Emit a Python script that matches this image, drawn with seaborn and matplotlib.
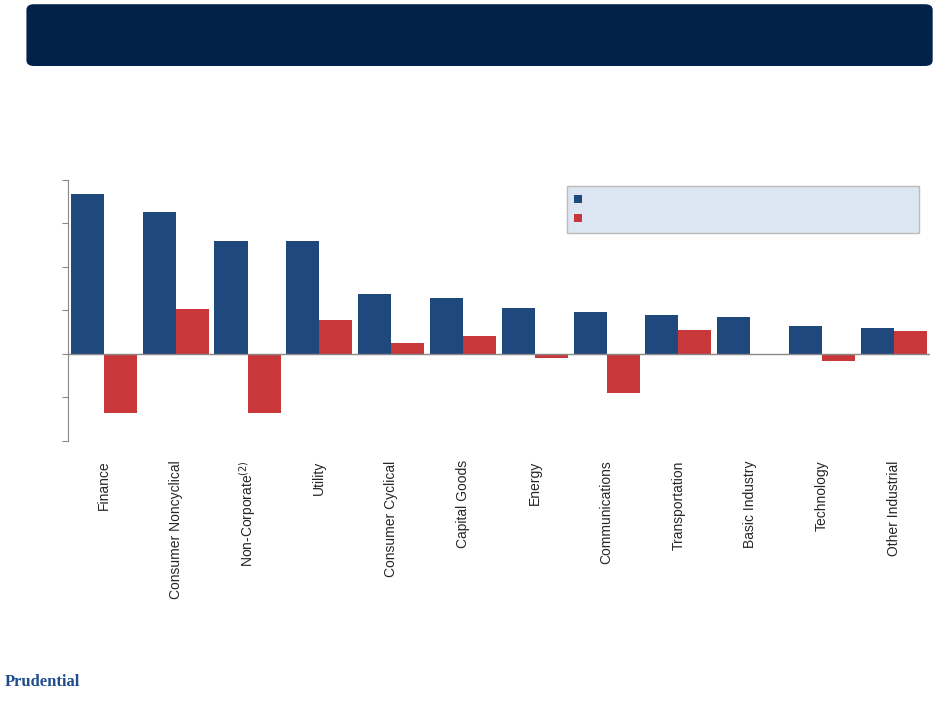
import numpy as np
import pandas as pd
import matplotlib
matplotlib.use("Agg")
import matplotlib.pyplot as plt
import seaborn as sns
from matplotlib.patches import FancyBboxPatch

sectors = ['Finance', 'Consumer Noncyclical', 'Non-Corporate$^{(2)}$', 'Utility',
           'Consumer Cyclical', 'Capital Goods', 'Energy', 'Communications',
           'Transportation', 'Basic Industry', 'Technology', 'Other Industrial']
s1 = [3.68, 3.25, 2.59, 2.59, 1.37, 1.28, 1.05, 0.96, 0.89, 0.85, 0.64, 0.60]
s2 = [-1.35, 1.03, -1.35, 0.78, 0.25, 0.41, -0.09, -0.89, 0.55, 0.0, -0.16, 0.53]

df = pd.DataFrame({'Sector': sectors * 2, 'Value': s1 + s2,
                   'Series': [' '] * 12 + ['  '] * 12})

sns.set_style("white")
fig = plt.figure(figsize=(9.44, 7.02), dpi=100)

# header banner
fig.patches.append(FancyBboxPatch((0.028, 0.906), 0.96, 0.088, boxstyle="round,pad=0,rounding_size=0.008",
                                  transform=fig.transFigure, facecolor='#022249', edgecolor='none'))
fig.text(0.005, 0.023, 'Prudential', fontsize=12, fontweight='bold', color='#1F4E8C',
         family='Liberation Serif', ha='left')

ax = fig.add_axes([0.072, 0.372, 0.913, 0.372])
sns.barplot(data=df, x='Sector', y='Value', hue='Series', palette=['#1F497D', '#C8383A'],
            width=0.92, saturation=1, linewidth=0, ax=ax)
ax.set_ylim(-2, 4)
ax.set_yticks(np.arange(-2, 5, 1))
ax.set_yticklabels([])
ax.tick_params(axis='y', length=4, left=True, color='#888888')
ax.set_xlabel('')
ax.set_ylabel('')
ax.axhline(0, color='#888888', lw=1)
for s in ['top', 'right', 'bottom']:
    ax.spines[s].set_visible(False)
ax.spines['left'].set_color('#888888')
ax.set_xticks(range(12))
ax.set_xticklabels(sectors, rotation=90, fontsize=10, family='Liberation Sans')
ax.tick_params(axis='x', length=0, pad=14)
leg = ax.legend(loc='upper right', bbox_to_anchor=(0.995, 1.0), frameon=True, fancybox=False,
                handlelength=0.6, handleheight=0.6, borderpad=0.6, fontsize=9)
leg.get_frame().set_facecolor('#DCE6F2')
leg.get_frame().set_edgecolor('#BBBBBB')
leg.get_frame().set_alpha(1)
for t in leg.get_texts():
    t.set_text(' ' * 80)

fig.savefig('out.png', dpi=100)
